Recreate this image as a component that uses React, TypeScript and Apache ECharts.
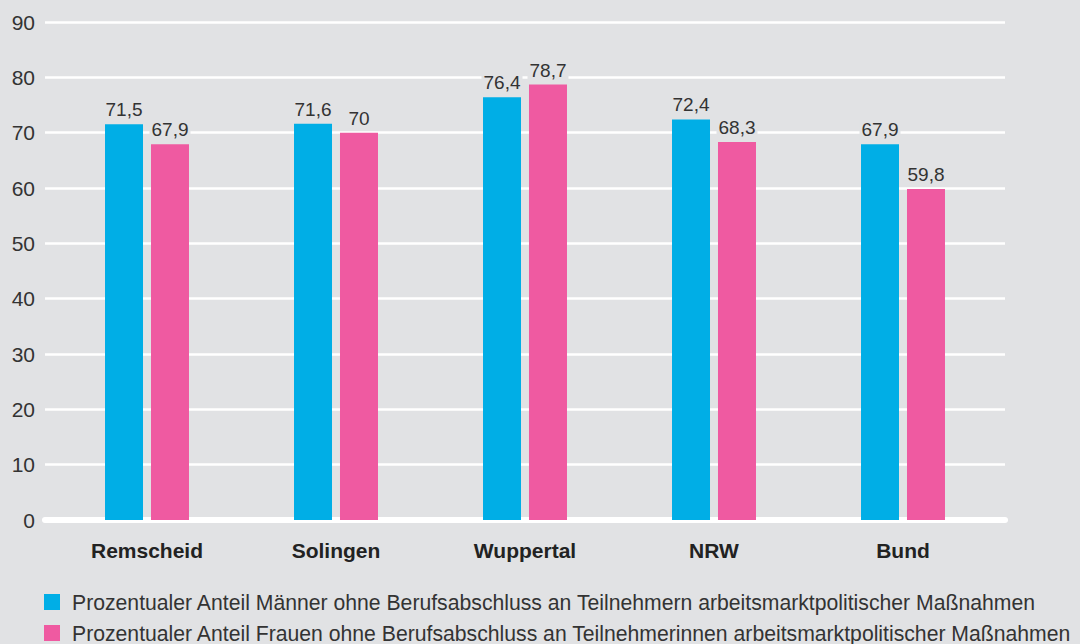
import React, { useEffect, useRef } from "react";
import * as echarts from "echarts";

const categories = ["Remscheid", "Solingen", "Wuppertal", "NRW", "Bund"];
const maenner = [71.5, 71.6, 76.4, 72.4, 67.9];
const frauen = [67.9, 70, 78.7, 68.3, 59.8];
const seriesNames = [
  "Prozentualer Anteil Männer ohne Berufsabschluss an Teilnehmern arbeitsmarktpolitischer Maßnahmen",
  "Prozentualer Anteil Frauen ohne Berufsabschluss an Teilnehmerinnen arbeitsmarktpolitischer Maßnahmen",
];
const colors = ["#00aee6", "#ef5aa1"];
const BG = "#e1e2e4";
const FONT = "'Liberation Sans', Arial, sans-serif";

export default function App() {
  const ref = useRef<HTMLDivElement>(null);
  useEffect(() => {
    document.body.style.margin = "0";
    if (!ref.current) return;
    const chart = echarts.init(ref.current, null, { renderer: "svg" });
    const fmt = (p: any) => String(p.value).replace(".", ",");
    const label = {
      show: true,
      position: "top",
      distance: 4,
      formatter: fmt,
      color: "#333",
      fontSize: 19,
      fontFamily: FONT,
      backgroundColor: BG,
      padding: [1, 2, 1, 2],
    };
    const legendBase = {
      orient: "horizontal",
      left: 39,
      itemWidth: 16,
      itemHeight: 16,
      icon: "rect",
      textStyle: {
        color: "#333",
        fontSize: 21.2,
        lineHeight: 22,
        fontFamily: FONT,
        padding: [0, 0, 0, 7],
      },
    };
    chart.setOption({
      animation: false,
      backgroundColor: BG,
      textStyle: { fontFamily: FONT },
      grid: [
        { left: 45, right: 75, top: 22, bottom: 124 },
        { left: 52.5, right: 82.5, top: 22, bottom: 124 },
      ],
      legend: [
        { ...legendBase, top: 586, data: [seriesNames[0]] },
        { ...legendBase, top: 617, data: [seriesNames[1]] },
      ],
      xAxis: [
        {
          gridIndex: 0,
          type: "category",
          data: categories,
          axisLine: { show: true, lineStyle: { color: "#ffffff", width: 6 } },
          axisTick: { show: false },
          axisLabel: { show: false },
          splitLine: { show: false },
        },
        {
          gridIndex: 1,
          type: "category",
          data: categories,
          axisLine: { show: false },
          axisTick: { show: false },
          axisLabel: {
            margin: 20,
            color: "#222",
            fontSize: 21,
            fontWeight: "bold",
            fontFamily: FONT,
          },
        },
      ],
      yAxis: [
        {
          gridIndex: 0,
          type: "value",
          min: 0,
          max: 90,
          interval: 10,
          axisLine: { show: false },
          axisTick: { show: false },
          axisLabel: { margin: 10, color: "#333", fontSize: 21, fontFamily: FONT },
          splitLine: { lineStyle: { color: "#ffffff", width: 2.5 } },
        },
        {
          gridIndex: 1,
          type: "value",
          min: 0,
          max: 90,
          interval: 10,
          show: false,
          splitLine: { show: false },
        },
      ],
      series: [
        {
          name: seriesNames[0],
          type: "bar",
          xAxisIndex: 1,
          yAxisIndex: 1,
          data: maenner,
          barWidth: 38,
          barGap: "21%",
          itemStyle: { color: colors[0] },
          label,
        },
        {
          name: seriesNames[1],
          type: "bar",
          xAxisIndex: 1,
          yAxisIndex: 1,
          data: frauen,
          barWidth: 38,
          barGap: "21%",
          itemStyle: { color: colors[1] },
          label,
        },
      ],
    });
    return () => chart.dispose();
  }, []);
  return <div ref={ref} style={{ width: 1080, height: 644 }} />;
}
